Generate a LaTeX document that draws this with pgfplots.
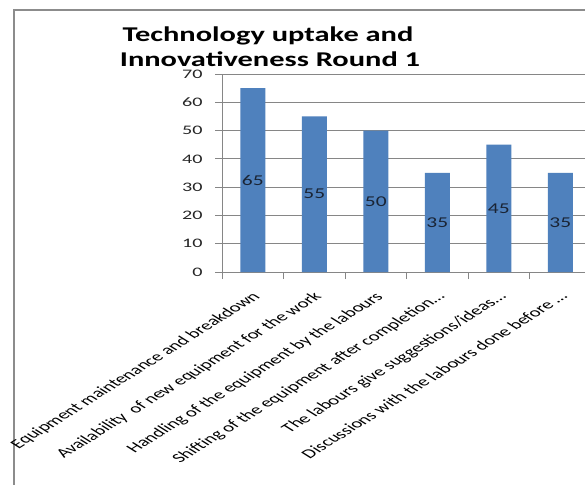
\documentclass[border=0pt]{standalone}
\usepackage{fontspec}
\setmainfont{Carlito}
\newfontfamily\titlefont{Carlito}[FakeStretch=1.45]
\newfontfamily\tickfont{Carlito}[FakeStretch=1.55]
\newfontfamily\datafont{Carlito}[FakeStretch=1.43]
\usepackage{pgfplots}
\pgfplotsset{compat=1.18}
\definecolor{barblue}{RGB}{79,129,189}
\definecolor{gridgray}{RGB}{134,134,134}
\definecolor{framegray}{RGB}{140,140,140}
\definecolor{datatext}{RGB}{26,36,52}
\begin{document}
\begin{tikzpicture}[x=1pt,y=1pt]
\path[use as bounding box, clip] (0,0) rectangle (585,484);
\fill[white] (0,0) rectangle (585,484);
\draw[framegray, line width=2.5pt] (14,-20) -- (14,474) -- (600,474);
\node[font=\titlefont\fontsize{21}{25}\selectfont\bfseries, anchor=base] at (268,442) {Technology uptake and};
\node[font=\titlefont\fontsize{21}{25}\selectfont\bfseries, anchor=base] at (270,417) {Innovativeness Round 1};
\begin{axis}[
  at={(252.75pt,212pt)}, anchor=origin,
  scale only axis, width=369pt, height=198pt,
  xmin=-0.5, xmax=5.5, ymin=0, ymax=70,
  ytick={0,10,...,70},
  xtick={-0.5,0.5,...,5.5}, xticklabels={},
  extra x ticks={0,1,2,3,4,5},
  extra x tick labels={Equipment maintenance and breakdown,Availability~ of new equipment for the work,Handling of the equipment by the labours,Shifting of the equipment after completion…,The labours give suggestions/ideas…,Discussions with the labours done before …},
  extra x tick style={major tick length=0pt},
  axis x line*=bottom, axis y line*=left,
  axis line style={gridgray, -, line width=0.8pt},
  ymajorgrids, grid style={gridgray, line width=0.8pt},
  tick align=outside, major tick length=7pt,
  tick style={gridgray, line width=0.8pt},
  /pgf/number format/assume math mode=true,
  yticklabel style={font=\tickfont\fontsize{13}{15}\selectfont, text=black!85, xshift=-9pt},
  xticklabel style={font=\fontsize{13}{15}\selectfont, anchor=north east, yshift=-16pt, xshift=-2pt, xscale=1.6, rotate=45, text=black, inner sep=2pt},
  ybar, bar width=25pt,
  visualization depends on=y \as \rawy,
  nodes near coords,
  every node near coord/.append style={font=\datafont\fontsize{15}{17}\selectfont, text=datatext, anchor=center, shift={(axis direction cs:0,-\rawy/2)}},
]
\addplot[fill=barblue, draw=none] coordinates {(0,65) (1,55) (2,50) (3,35) (4,45) (5,35)};
\end{axis}
\end{tikzpicture}
\end{document}
